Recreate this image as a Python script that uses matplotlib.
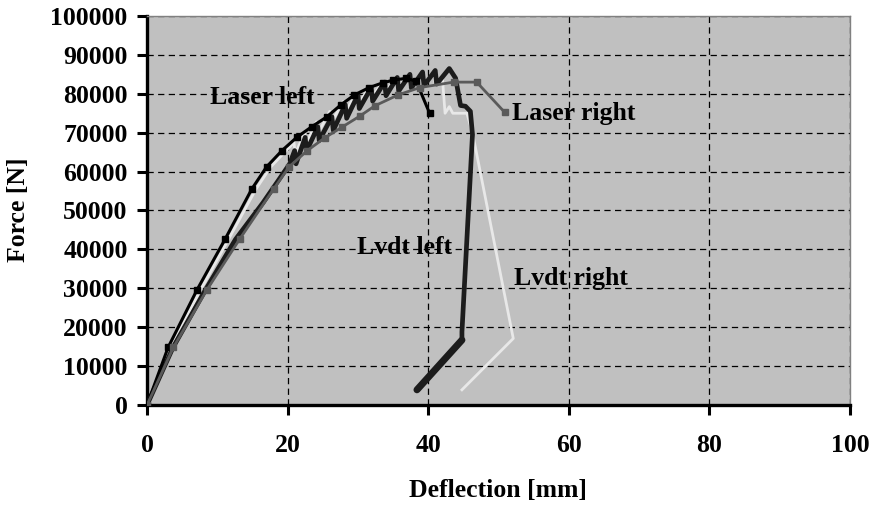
import matplotlib
matplotlib.use("Agg")
import matplotlib.pyplot as plt

# ---------------- data ----------------
laser_left_x = [0, 3.0, 7.1, 11.1, 14.9, 17.0, 19.2, 21.3, 23.4, 25.6, 27.6, 29.5, 31.6,
                33.5, 35.0, 36.9, 38.3, 40.2]
laser_left_y = [0, 14800, 29550, 42600, 55500, 61200, 65400, 68800, 71500, 74100, 77200,
                79700, 81600, 82800, 83500, 84000, 83200, 75000]

laser_right_x = [0, 3.75, 8.5, 13.2, 18.0, 20.2, 22.8, 25.3, 27.8, 30.3, 32.4, 35.7, 38.8,
                 43.6, 46.9, 50.9]
laser_right_y = [0, 14800, 29550, 42700, 55500, 61200, 65400, 68700, 71500, 74300, 76900,
                 79700, 81600, 83000, 83000, 75200]

lvdt_left_x = [0, 3.7, 8.3, 12.6, 16.5, 18.6, 20.3, 21.0, 21.2, 22.5, 22.7, 24.3, 24.5,
               26.3, 26.5, 28.2, 28.4, 30.0, 30.2, 31.9, 32.1, 33.8, 34.0, 35.6, 35.8,
               37.4, 37.6, 39.2, 39.4, 41.0, 41.2, 43.0, 43.9, 44.3, 44.6, 45.3, 46.0,
               46.3, 44.8, 44.8, 38.4]
lvdt_left_y = [0, 14800, 29550, 42600, 52000, 57500, 62000, 65400, 62000, 68800, 65300,
               71500, 68000, 74100, 70600, 77200, 73700, 79700, 76200, 81600, 78100,
               83000, 79500, 84200, 80700, 85000, 81500, 85600, 82100, 86000, 82500,
               86500, 84000, 80000, 77000, 76800, 75500, 69500, 18800, 16700, 3900]

lvdt_right_x = [0, 3.4, 7.6, 11.6, 15.5, 17.6, 19.8, 20.9, 21.1, 22.4, 22.6, 24.1, 24.3,
                26.0, 26.2, 27.9, 28.1, 29.8, 30.0, 31.7, 31.9, 33.6, 33.8, 35.4, 35.6,
                37.2, 37.4, 39.0, 39.2, 40.8, 41.0, 42.0, 42.4, 43.0, 43.5, 45.5, 46.3,
                52.1, 44.8]
lvdt_right_y = [0, 14800, 29550, 42600, 55500, 61200, 65400, 67500, 64500, 70000, 67000,
                72800, 69800, 75500, 72500, 78000, 75000, 80200, 77200, 81900, 78900,
                83200, 80200, 84200, 81200, 84900, 81900, 85300, 82300, 85500, 82500,
                84500, 75000, 76700, 75000, 75000, 70000, 17100, 3900]

x_ticks = [0, 20, 40, 60, 80, 100]
y_ticks = [0, 10000, 20000, 30000, 40000, 50000, 60000, 70000, 80000, 90000, 100000]

# ---------------- figure ----------------
FONT = "Liberation Serif"
FS = 18.5

fig = plt.figure(figsize=(8.71, 5.07), dpi=100)
ax = fig.add_axes([147 / 871, 1 - 405 / 507, (850 - 147) / 871, (405 - 16) / 507])
ax.set_facecolor("#C0C0C0")

ax.set_xlim(0, 100)
ax.set_ylim(0, 100000)
ax.set_xticks(x_ticks)
ax.set_yticks(y_ticks)
ax.set_xticklabels([str(v) for v in x_ticks], fontfamily=FONT, fontweight="bold", fontsize=FS)
ax.set_yticklabels([str(v) for v in y_ticks], fontfamily=FONT, fontweight="bold", fontsize=FS)

ax.grid(True, color="black", linestyle=(0, (5, 3.5)), linewidth=0.9)
ax.set_axisbelow(True)

ax.tick_params(axis="both", direction="out", length=7, width=2.2, color="black")
ax.tick_params(axis="x", pad=14)
ax.tick_params(axis="y", pad=7)

for side in ("left", "bottom"):
    ax.spines[side].set_linewidth(2.4)
    ax.spines[side].set_color("black")
for side in ("top", "right"):
    ax.spines[side].set_linewidth(1.0)
    ax.spines[side].set_color("#808080")

# series
ax.plot(lvdt_right_x, lvdt_right_y, color="#e8e8e8", linewidth=2.0, solid_joinstyle="round",
        zorder=3)
ax.plot(lvdt_left_x, lvdt_left_y, color="#1c1c1c", linewidth=3.4, solid_joinstyle="round",
        solid_capstyle="round", zorder=4)
ax.plot(lvdt_left_x[-2:], lvdt_left_y[-2:], color="#1c1c1c", linewidth=5.0,
        solid_capstyle="round", zorder=4)
ax.plot(laser_left_x, laser_left_y, color="black", linewidth=2.2, marker="s", markersize=5,
        markerfacecolor="black", markeredgecolor="black", zorder=5)
ax.plot(laser_right_x, laser_right_y, color="#5a5a5a", linewidth=2.0, marker="s",
        markersize=5, markerfacecolor="#5a5a5a", markeredgecolor="#5a5a5a", zorder=6)

# annotations
txt = dict(fontfamily=FONT, fontweight="bold", fontsize=FS, color="black",
           ha="left", va="center", zorder=7)
ax.text(9.0, 79000, "Laser left", **txt)
ax.text(51.9, 75000, "Laser right", **txt)
ax.text(29.9, 40600, "Lvdt left", **txt)
ax.text(52.2, 32600, "Lvdt right", **txt)

fig.text(498 / 871, 1 - 490 / 507, "Deflection [mm]", ha="center", va="center",
         fontfamily=FONT, fontweight="bold", fontsize=FS)
fig.text(19 / 871, 1 - 210 / 507, "Force [N]", ha="center", va="center", rotation=90,
         fontfamily=FONT, fontweight="bold", fontsize=FS)

fig.savefig("out.png", dpi=100)
